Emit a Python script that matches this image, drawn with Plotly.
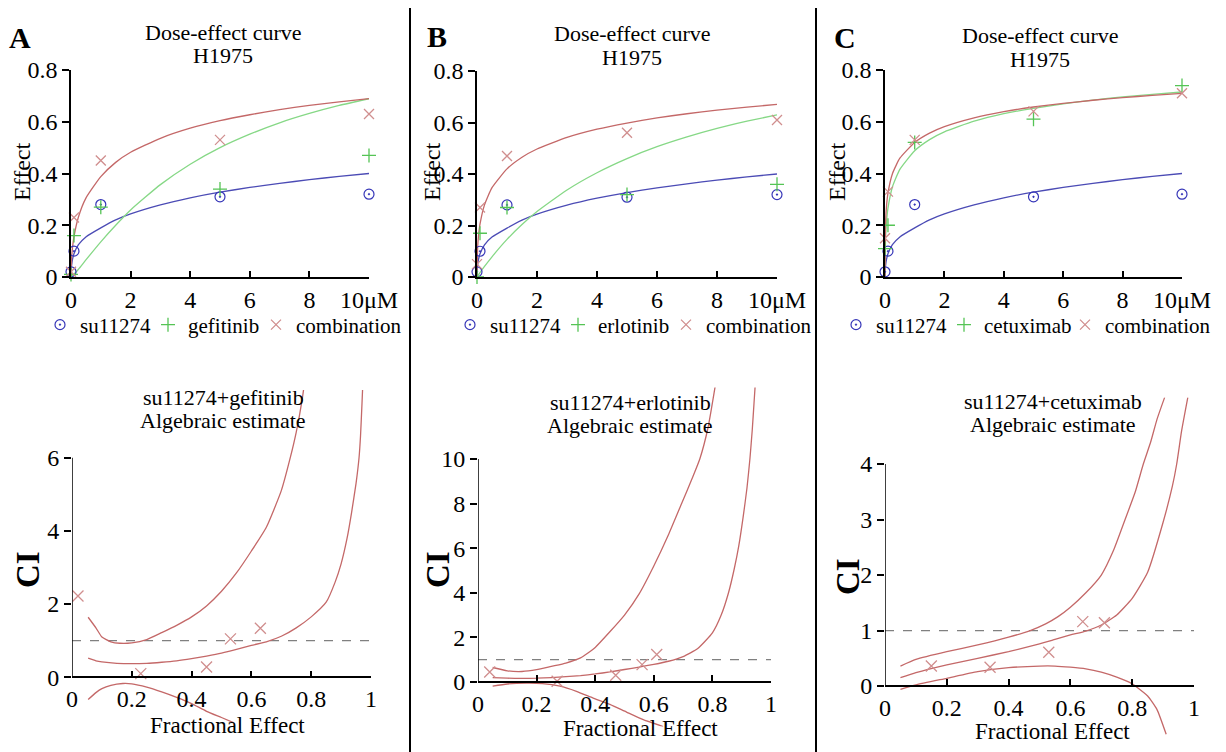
import plotly.graph_objects as go

W, H = 1226, 752
OFF = 8  # the page body margin shifts the figure by this many px; positions below are screen px
FONT = "Liberation Serif"

# ---------------- Dose-effect data (top row) ----------------
dose = [0, 0.1, 1, 5, 10]
su11274_effect = [0.02, 0.10, 0.28, 0.31, 0.32]
gefitinib_effect = [0.01, 0.16, 0.27, 0.34, 0.47]
combo_A_effect = [0.02, 0.23, 0.45, 0.53, 0.63]
erlotinib_effect = [0.00, 0.17, 0.27, 0.32, 0.36]
combo_B_effect = [0.05, 0.27, 0.47, 0.56, 0.61]
cetuximab_effect = [0.11, 0.20, 0.52, 0.61, 0.74]
combo_C_effect = [0.15, 0.33, 0.53, 0.64, 0.71]

curve_dose = [0, 0.02, 0.05, 0.1, 0.25, 0.5, 1, 1.5, 2, 3, 4, 5, 6, 7, 8, 9, 10]
su11274_curve = [0, 0.045, 0.068, 0.09, 0.125, 0.155, 0.19, 0.221, 0.244, 0.279, 0.306, 0.328, 0.346, 0.362, 0.376, 0.389, 0.40]
gefitinib_curve = [0, 0.002, 0.005, 0.011, 0.03, 0.066, 0.136, 0.20, 0.259, 0.357, 0.436, 0.50, 0.552, 0.596, 0.632, 0.663, 0.689]
combo_A_curve = [0, 0.072, 0.113, 0.156, 0.232, 0.305, 0.388, 0.443, 0.482, 0.536, 0.575, 0.604, 0.627, 0.647, 0.663, 0.677, 0.689]
erlotinib_curve = [0, 0.003, 0.008, 0.017, 0.041, 0.0785, 0.146, 0.2035, 0.254, 0.338, 0.405, 0.46, 0.506, 0.544, 0.577, 0.605, 0.63]
combo_B_curve = [0, 0.111, 0.159, 0.205, 0.28, 0.347, 0.42, 0.465, 0.497, 0.542, 0.574, 0.598, 0.618, 0.634, 0.648, 0.66, 0.67]
cetuximab_curve = [0, 0.156, 0.213, 0.266, 0.348, 0.416, 0.488, 0.531, 0.561, 0.602, 0.631, 0.652, 0.669, 0.684, 0.696, 0.706, 0.715]
combo_C_curve = [0, 0.213, 0.273, 0.324, 0.399, 0.459, 0.52, 0.556, 0.581, 0.615, 0.639, 0.657, 0.671, 0.683, 0.693, 0.702, 0.71]

# ---------------- Combination index data (bottom row) ----------------
ref_fa = [0, 1]
ref_ci = [1, 1]

pts_A_fa = [0.02, 0.23, 0.45, 0.53, 0.63]
pts_A_ci = [2.22, 0.10, 0.28, 1.05, 1.34]
ci_A_fa = [0.054, 0.08, 0.10, 0.15, 0.20, 0.25, 0.30, 0.35, 0.40, 0.45, 0.50, 0.55, 0.60, 0.65, 0.70, 0.75, 0.80, 0.85, 0.88, 0.90, 0.92, 0.935, 0.95, 0.96, 0.965, 0.97, 0.973]
ci_A = [0.52, 0.45, 0.42, 0.38, 0.37, 0.38, 0.41, 0.45, 0.51, 0.58, 0.66, 0.76, 0.87, 0.97, 1.12, 1.35, 1.65, 2.05, 2.6, 3.1, 3.8, 4.5, 5.3, 6.0, 6.6, 7.5, 8.1]
up_A_fa = [0.054, 0.08, 0.10, 0.13, 0.16, 0.20, 0.25, 0.30, 0.35, 0.40, 0.45, 0.50, 0.55, 0.60, 0.65, 0.70, 0.73, 0.75, 0.77, 0.78]
up_A = [1.64, 1.35, 1.10, 0.97, 0.93, 0.94, 1.03, 1.22, 1.42, 1.65, 1.95, 2.35, 2.85, 3.45, 4.1, 5.1, 6.0, 6.7, 7.6, 8.2]
lo_A_fa = [0.054, 0.08, 0.10, 0.13, 0.17, 0.20, 0.25, 0.30, 0.35, 0.40, 0.45, 0.50, 0.54]
lo_A = [-0.61, -0.42, -0.31, -0.22, -0.17, -0.18, -0.27, -0.40, -0.55, -0.72, -0.93, -1.10, -1.24]

pts_B_fa = [0.04, 0.27, 0.47, 0.56, 0.61]
pts_B_ci = [0.45, 0.03, 0.30, 0.78, 1.23]
ci_B_fa = [0.05, 0.10, 0.15, 0.20, 0.25, 0.30, 0.35, 0.40, 0.45, 0.50, 0.55, 0.60, 0.65, 0.70, 0.75, 0.80, 0.83, 0.855, 0.875, 0.89, 0.905, 0.918, 0.928, 0.936, 0.942, 0.947]
ci_B = [0.2, 0.17, 0.16, 0.17, 0.2, 0.24, 0.29, 0.36, 0.45, 0.56, 0.67, 0.79, 0.93, 1.14, 1.5, 2.2, 3.0, 4.0, 5.1, 6.1, 7.4, 8.7, 10.0, 11.3, 12.5, 13.5]
up_B_fa = [0.05, 0.10, 0.15, 0.20, 0.25, 0.30, 0.35, 0.40, 0.45, 0.50, 0.55, 0.60, 0.65, 0.695, 0.73, 0.757, 0.785, 0.81]
up_B = [0.65, 0.5, 0.47, 0.55, 0.7, 0.85, 1.08, 1.55, 2.25, 3.0, 3.95, 5.2, 6.6, 8.0, 9.1, 10.0, 11.4, 13.3]
lo_B_fa = [0.05, 0.10, 0.165, 0.22, 0.28, 0.336, 0.393, 0.45, 0.507, 0.564, 0.632]
lo_B = [-0.19, -0.09, -0.05, -0.07, -0.19, -0.42, -0.72, -1.0, -1.35, -1.69, -2.0]

pts_C_fa = [0.15, 0.34, 0.53, 0.64, 0.71]
pts_C_ci = [0.36, 0.34, 0.61, 1.16, 1.14]
ci_C_fa = [0.05, 0.10, 0.20, 0.30, 0.40, 0.50, 0.55, 0.60, 0.65, 0.70, 0.75, 0.80, 0.85, 0.90, 0.93, 0.944, 0.96, 0.98]
ci_C = [0.15, 0.24, 0.38, 0.5, 0.62, 0.76, 0.84, 0.92, 0.99, 1.1, 1.28, 1.58, 2.05, 2.95, 3.6, 4.0, 4.6, 5.2]
up_C_fa = [0.05, 0.10, 0.20, 0.30, 0.40, 0.47, 0.52, 0.56, 0.60, 0.65, 0.70, 0.74, 0.777, 0.81, 0.836, 0.86, 0.88, 0.905]
up_C = [0.36, 0.48, 0.62, 0.74, 0.88, 1.0, 1.12, 1.25, 1.42, 1.68, 2.0, 2.45, 3.0, 3.5, 4.0, 4.4, 4.8, 5.2]
lo_C_fa = [0.05, 0.10, 0.20, 0.30, 0.40, 0.50, 0.55, 0.60, 0.65, 0.70, 0.75, 0.80, 0.81, 0.85, 0.88, 0.91]
lo_C = [-0.06, 0.02, 0.14, 0.26, 0.33, 0.36, 0.36, 0.34, 0.31, 0.25, 0.16, 0.04, 0.0, -0.18, -0.42, -0.87]

dose_ticks = [0, 2, 4, 6, 8, 10]
dose_ticktext = ["0", "2", "4", "6", "8", "10μM"]
effect_ticks = [0, 0.2, 0.4, 0.6, 0.8]
effect_ticktext = ["0", "0.2", "0.4", "0.6", "0.8"]
fa_ticks = [0, 0.2, 0.4, 0.6, 0.8, 1]
fa_ticktext = ["0", "0.2", "0.4", "0.6", "0.8", "1"]

BLUE = "#4b4bb5"
BLUE_MK = "#3535b8"
GREEN = "#86d886"
GREEN_MK = "#55c455"
RED = "#c46868"
RED_MK = "#d08e8e"
GREY = "#808080"

LEG_FONT = 21
# legend entry widths (px) to keep the legend rows compact
LW_SHORT = 63
LW_CETUX = 76
LW_COMBO = 112

fig = go.Figure()

top_panels = [
    ("x", "y", "legend", "gefitinib", LW_SHORT, gefitinib_effect, combo_A_effect, gefitinib_curve, combo_A_curve),
    ("x2", "y2", "legend2", "erlotinib", LW_SHORT, erlotinib_effect, combo_B_effect, erlotinib_curve, combo_B_curve),
    ("x3", "y3", "legend3", "cetuximab", LW_CETUX, cetuximab_effect, combo_C_effect, cetuximab_curve, combo_C_curve),
]
for xa, ya, lg, drug, lw_drug, drug_eff, combo_eff, drug_curve, combo_curve in top_panels:
    for cy, col in ((su11274_curve, BLUE), (drug_curve, GREEN), (combo_curve, RED)):
        fig.add_trace(go.Scatter(x=curve_dose, y=cy, mode="lines",
                                 line=dict(color=col, width=1.3, shape="spline", smoothing=0.5),
                                 xaxis=xa, yaxis=ya, showlegend=False, hoverinfo="skip"))
    fig.add_trace(go.Scatter(x=dose, y=su11274_effect, mode="markers", name="su11274", legend=lg, legendwidth=LW_SHORT,
                             marker=dict(symbol="circle-open-dot", size=10, color=BLUE_MK, line=dict(width=1.2)),
                             xaxis=xa, yaxis=ya, cliponaxis=False))
    fig.add_trace(go.Scatter(x=dose, y=drug_eff, mode="markers", name=drug, legend=lg, legendwidth=lw_drug,
                             marker=dict(symbol="cross-thin-open", size=10, color=GREEN_MK, line=dict(width=1.3)),
                             xaxis=xa, yaxis=ya, cliponaxis=False))
    fig.add_trace(go.Scatter(x=dose, y=combo_eff, mode="markers", name="combination", legend=lg, legendwidth=LW_COMBO,
                             marker=dict(symbol="x-thin-open", size=10, color=RED_MK, line=dict(width=1.3)),
                             xaxis=xa, yaxis=ya, cliponaxis=False))

bottom_panels = [
    ("x4", "y4", pts_A_fa, pts_A_ci, ci_A_fa, ci_A, up_A_fa, up_A, lo_A_fa, lo_A),
    ("x5", "y5", pts_B_fa, pts_B_ci, ci_B_fa, ci_B, up_B_fa, up_B, lo_B_fa, lo_B),
    ("x6", "y6", pts_C_fa, pts_C_ci, ci_C_fa, ci_C, up_C_fa, up_C, lo_C_fa, lo_C),
]
for xa, ya, pfa, pci, cfa, cci, ufa, uci, lfa, lci in bottom_panels:
    fig.add_trace(go.Scatter(x=ref_fa, y=ref_ci, mode="lines", line=dict(color=GREY, width=1.3, dash="dash"),
                             xaxis=xa, yaxis=ya, showlegend=False, hoverinfo="skip"))
    for fx, fy in ((cfa, cci), (ufa, uci), (lfa, lci)):
        fig.add_trace(go.Scatter(x=fx, y=fy, mode="lines", line=dict(color=RED, width=1.3, shape="spline", smoothing=0.5),
                                 xaxis=xa, yaxis=ya, showlegend=False, hoverinfo="skip"))
    fig.add_trace(go.Scatter(x=pfa, y=pci, mode="markers", marker=dict(symbol="x-thin-open", size=11, color=RED_MK, line=dict(width=1.3)),
                             xaxis=xa, yaxis=ya, showlegend=False, cliponaxis=False))

tickfont = dict(family=FONT, size=24, color="black")


def px_x(px):
    return (px - OFF) / W


def px_y(py):
    return 1 - (py - OFF) / H


def xdom(a, b):
    return [px_x(a), px_x(b)]


def ydom(top, bot):
    return [px_y(bot), px_y(top)]


def common_axis():
    return dict(showline=True, linecolor="black", linewidth=1.5, showgrid=False, zeroline=False, automargin=False,
                tickcolor="black", tickwidth=1.5, tickfont=tickfont, fixedrange=True)


layout = dict(width=W, height=H, margin=dict(l=0, r=0, t=0, b=0, autoexpand=False),
              paper_bgcolor="white", plot_bgcolor="white",
              font=dict(family=FONT, color="black", size=24), showlegend=True)

top_geom = [("", (71, 369), (70, 277)), ("2", (477, 777), (71, 277)), ("3", (885, 1182), (70, 277))]
for s, (xa, xb), (yt, yb) in top_geom:
    ax = common_axis()
    ax.update(domain=xdom(xa, xb), range=[0, 10], tickvals=dose_ticks, ticktext=dose_ticktext,
              ticks="inside", ticklen=6, anchor="y" + s)
    layout["xaxis" + s] = ax
    ay = common_axis()
    ay.update(domain=ydom(yt, yb), range=[0, 0.8], tickvals=effect_ticks, ticktext=effect_ticktext,
              ticks="outside", ticklen=7, anchor="x" + s)
    layout["yaxis" + s] = ay

bottom_geom = [
    ("4", (72, 371), (390, 723), [-1.25, 7.85], [0, 2, 4, 6]),
    ("5", (478, 771), (387.6, 726.6), [-2.0, 13.2], [0, 2, 4, 6, 8, 10]),
    ("6", (885, 1194), (397.4, 736), [-0.9, 5.2], [0, 1, 2, 3, 4]),
]
shapes = []
for s, (xa, xb), (yt, yb), rng, yt_vals in bottom_geom:
    yd = ydom(yt, yb)
    pos = yd[0] + (0 - rng[0]) / (rng[1] - rng[0]) * (yd[1] - yd[0])
    ax = common_axis()
    ax.update(domain=xdom(xa, xb), range=[0, 1], tickvals=fa_ticks, ticktext=fa_ticktext,
              ticks="inside", ticklen=6, anchor="free", position=pos)
    layout["xaxis" + s] = ax
    ay = common_axis()
    ay.update(domain=yd, range=rng, tickvals=yt_vals, ticktext=[str(v) for v in yt_vals],
              ticks="outside", ticklen=7, anchor="x" + s, showline=False)
    layout["yaxis" + s] = ay
    shapes.append(dict(type="line", xref="x" + s, yref="y" + s, x0=0, x1=0, y0=0, y1=yt_vals[-1],
                       line=dict(color="black", width=1.5)))

# panel separators
for px in (410, 816):
    shapes.append(dict(type="line", xref="paper", yref="paper", x0=px_x(px), x1=px_x(px), y0=0, y1=1,
                       line=dict(color="black", width=2)))
layout["shapes"] = shapes

legend_common = dict(orientation="h", yanchor="middle", xanchor="left", bgcolor="rgba(0,0,0,0)",
                     font=dict(family=FONT, size=LEG_FONT, color="black"), tracegroupgap=0, itemwidth=30)
layout["legend"] = dict(legend_common, x=px_x(40), y=px_y(325))
layout["legend2"] = dict(legend_common, x=px_x(450), y=px_y(325))
layout["legend3"] = dict(legend_common, x=px_x(836), y=px_y(325))

annotations = []


def ann(text, px, py, size=24, bold=False, angle=0):
    t = "<b>%s</b>" % text if bold else text
    annotations.append(dict(text=t, x=px_x(px), y=px_y(py), xref="paper", yref="paper", showarrow=False,
                            xanchor="center", yanchor="middle", textangle=angle, borderpad=0,
                            font=dict(family=FONT, size=size, color="black")))


for letter, lx, ly in (("A", 20, 37), ("B", 437, 36), ("C", 845, 37)):
    ann(letter, lx, ly, size=30, bold=True)

for cx, y1, y2 in ((223, 33, 56), (632, 34, 58), (1040, 35, 59)):
    ann("Dose-effect curve", cx, y1, size=22)
    ann("H1975", cx, y2, size=22)

for cx, y1, y2, combo in ((223, 397, 420, "su11274+gefitinib"), (630, 402, 425, "su11274+erlotinib"),
                          (1053, 401, 424, "su11274+cetuximab")):
    ann(combo, cx, y1, size=22)
    ann("Algebraic estimate", cx, y2, size=22)

for ex in (22, 432, 837):
    ann("Effect", ex, 172, angle=-90)

for cx, cy in ((28, 570), (438, 570), (848, 577)):
    ann("CI", cx, cy, size=33, bold=True, angle=-90)

for fx, fy in ((227, 725), (640, 728), (1052, 731)):
    ann("Fractional Effect", fx, fy, size=23)

layout["annotations"] = annotations
fig.update_layout(**layout)
fig.write_html("out.html")
